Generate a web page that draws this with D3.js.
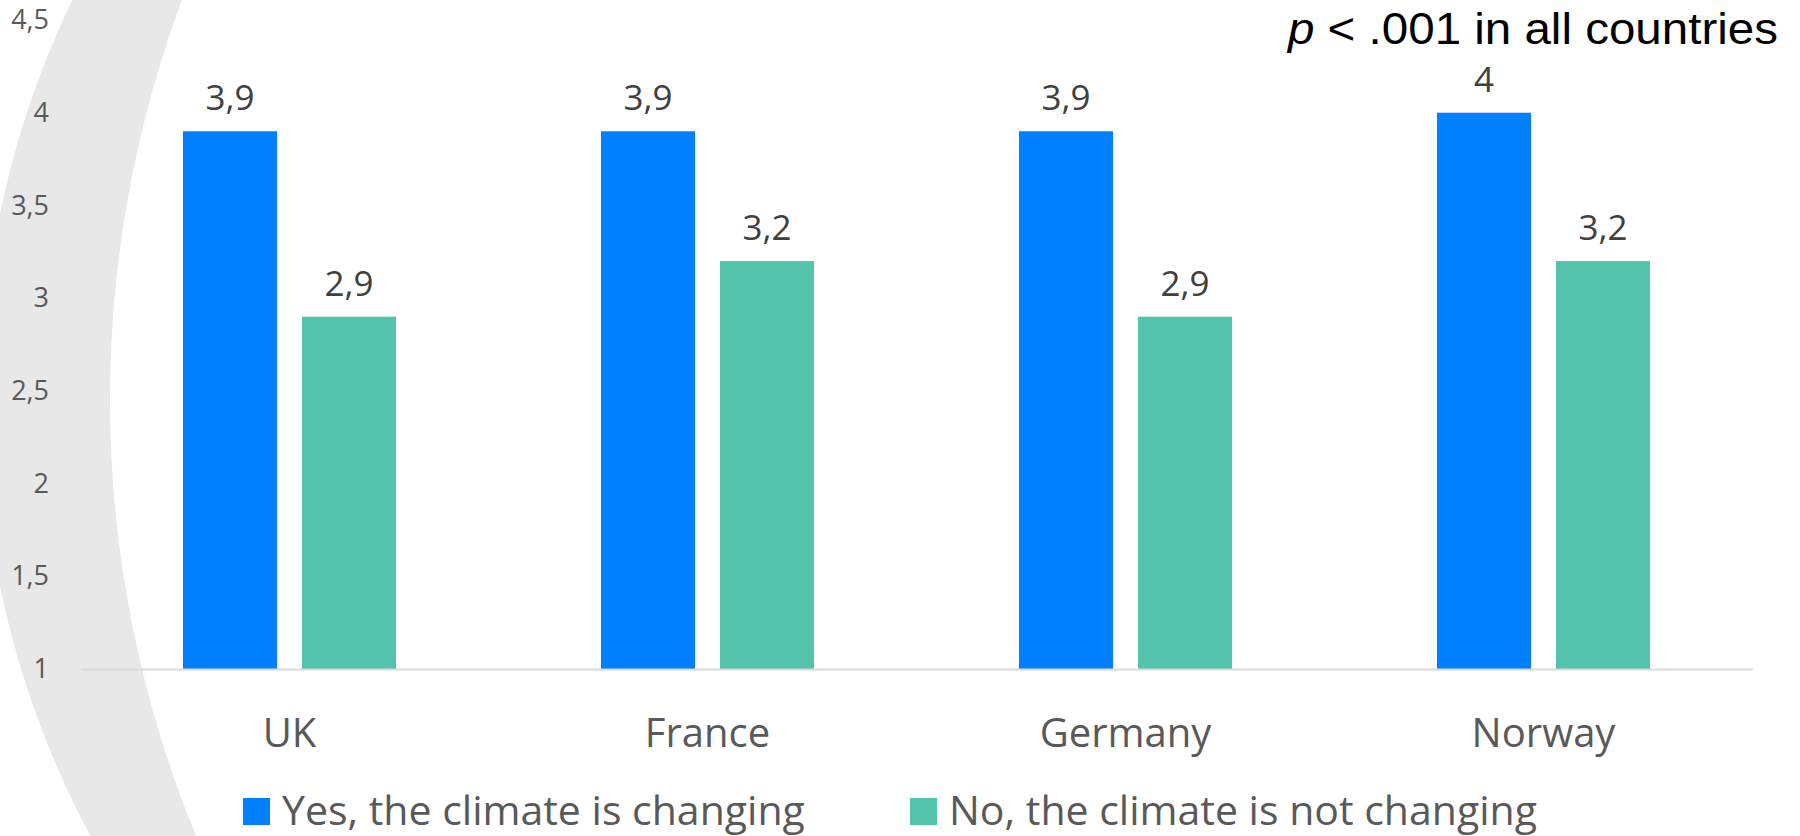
<!DOCTYPE html>
<html>
<head>
<meta charset="utf-8">
<script src="https://cdn.jsdelivr.net/npm/d3@7"></script>
<style>
  body { margin: 0; background: #fff; }
  svg { display: block; font-family: "Open Sans", sans-serif; }
</style>
</head>
<body>
<svg id="chart" width="1800" height="836"></svg>
<script>
const countries = ["UK", "France", "Germany", "Norway"];
const seriesNames = ["Yes, the climate is changing", "No, the climate is not changing"];
const yesValues = [3.9, 3.9, 3.9, 4];
const noValues = [2.9, 3.2, 2.9, 3.2];
const yTicks = [1, 1.5, 2, 2.5, 3, 3.5, 4, 4.5];
const colors = ["#0080ff", "#53c3ab"];

const width = 1800, height = 836;
const plotLeft = 80.5, plotRight = 1752.5;
const yBottom = 669, yTop = 20;

// comma decimal like the original
const locale = d3.formatLocale({decimal: ",", thousands: ".", grouping: [3], currency: ["", ""]});
const fmt = locale.format(".1~f");

const svg = d3.select("#chart");

// grey crescent decoration on the left
svg.append("circle")
	.attr("cx", 904).attr("cy", 400).attr("r", 923)
	.attr("fill", "#e7e8e7");
svg.append("circle")
	.attr("cx", 1257).attr("cy", 400).attr("r", 1147)
	.attr("fill", "#fff");

const x0 = d3.scaleBand()
	.domain(countries)
	.range([plotLeft, plotRight])
	.padding(0);

const x1 = d3.scaleBand()
	.domain(seriesNames)
	.range([0, x0.bandwidth()])
	.paddingInner(0.21)
	.paddingOuter(0.861);

const y = d3.scaleLinear()
	.domain([1, 4.5])
	.range([yBottom, yTop]);

// y axis labels
const yAxis = svg.append("g")
	.attr("transform", "translate(49,0)")
	.call(d3.axisLeft(y).tickValues(yTicks).tickSize(0).tickPadding(0).tickFormat(fmt));
yAxis.select(".domain").remove();
yAxis.selectAll("text")
	.attr("fill", "#595959")
	.style("font-size", "27px")
	.style("font-family", "'Open Sans', sans-serif");

// table for the bars
const rows = countries.map(function (c, i){
	return [
		{country: c, series: seriesNames[0], value: yesValues[i], color: colors[0]},
		{country: c, series: seriesNames[1], value: noValues[i], color: colors[1]}
	];
});

const groups = svg.append("g").selectAll("g")
	.data(rows)
	.join("g")
	.attr("transform", function (d){ return "translate(" + x0(d[0].country) + ",0)" });

groups.selectAll("rect")
	.data(function (d){ return d })
	.join("rect")
	.attr("x", function (d){ return x1(d.series) })
	.attr("width", x1.bandwidth())
	.attr("y", function (d){ return y(d.value) })
	.attr("height", function (d){ return y(1) - y(d.value) })
	.attr("fill", function (d){ return d.color });

// value labels
groups.selectAll("text.val")
	.data(function (d){ return d })
	.join("text")
	.attr("class", "val")
	.attr("x", function (d){ return x1(d.series) + x1.bandwidth() / 2 })
	.attr("y", function (d){ return y(d.value) - 21 })
	.attr("text-anchor", "middle")
	.attr("fill", "#404040")
	.style("font-size", "35px")
	.text(function (d){ return fmt(d.value) });

// x axis: baseline + category names
const xAxis = svg.append("g")
	.attr("transform", "translate(0," + yBottom + ")")
	.call(d3.axisBottom(x0).tickSize(0).tickSizeOuter(0));
xAxis.select(".domain")
	.attr("stroke", "#d9d9d9")
	.attr("stroke-width", 2);
xAxis.selectAll("text")
	.attr("y", 78)
	.attr("dy", 0)
	.attr("fill", "#595959")
	.style("font-size", "40px")
	.style("font-family", "'Open Sans', sans-serif");

// legend
const legendX = [243, 910];
const legend = svg.append("g").selectAll("g")
	.data(seriesNames)
	.join("g")
	.attr("transform", function (d, i){ return "translate(" + legendX[i] + ",798)" });
legend.append("rect")
	.attr("width", 27)
	.attr("height", 27)
	.attr("fill", function (d, i){ return colors[i] });
legend.append("text")
	.attr("x", 39)
	.attr("y", 27)
	.attr("fill", "#595959")
	.style("font-size", "41px")
	.text(function (d){ return d });

// significance note
const note = svg.append("text")
	.attr("x", 1778)
	.attr("y", 44)
	.attr("text-anchor", "end")
	.attr("fill", "#000")
	.attr("textLength", 490)
	.attr("lengthAdjust", "spacingAndGlyphs")
	.style("font-family", "'Liberation Sans', Arial, sans-serif")
	.style("font-size", "45px");
note.append("tspan").style("font-style", "italic").text("p");
note.append("tspan").text(" < .001 in all countries");
</script>
</body>
</html>
